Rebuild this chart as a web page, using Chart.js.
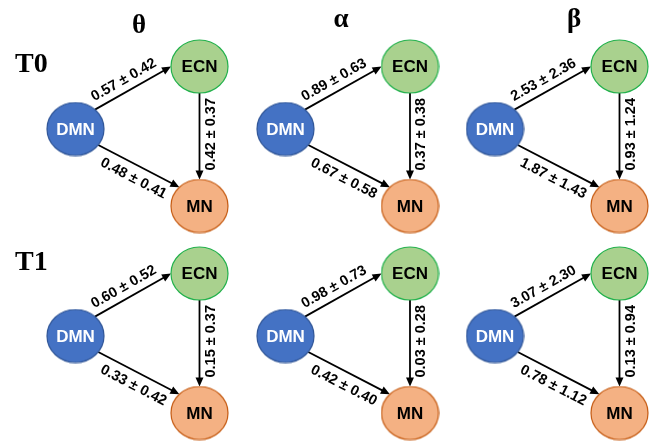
<!DOCTYPE html>
<html>
<head>
<meta charset="utf-8">
<script src="https://cdn.jsdelivr.net/npm/chart.js@4/dist/chart.umd.min.js"></script>
<style>
html,body{margin:0;padding:0;background:#fff;}
canvas{display:block;}
</style>
</head>
<body>
<canvas id="c" width="654" height="441"></canvas>
<script>
// ---- data ----
const bands = ['θ', 'α', 'β'];
const times = ['T0', 'T1'];
const nodeNames = ['DMN', 'ECN', 'MN'];
// order: T0 θ, T0 α, T0 β, T1 θ, T1 α, T1 β
const dmnEcnMean = [0.57, 0.89, 2.53, 0.60, 0.98, 3.07];
const dmnEcnSd   = [0.42, 0.63, 2.36, 0.52, 0.73, 2.30];
const ecnMnMean  = [0.42, 0.37, 0.93, 0.15, 0.03, 0.13];
const ecnMnSd    = [0.37, 0.38, 1.24, 0.37, 0.28, 0.94];
const dmnMnMean  = [0.48, 0.67, 1.87, 0.33, 0.42, 0.78];
const dmnMnSd    = [0.41, 0.58, 1.43, 0.42, 0.40, 1.12];

// ---- layout (positions in axis units) ----
const layout = {
  dmnX: [75.5, 285.5, 495],
  ecnX: [199.5, 410, 619.5],
  dmnY: 129, ecnY: 66.5, mnY: 206, rowDy: 207,
  titleX: [139, 341, 574], titleY: [33, 27, 27],
  timeX: 15, timeY: [72, 270],
  rx: 28.5, ry: 26.5
};
const styles = {
  DMN: {fill: '#4472C4', stroke: '#2F5597', text: '#ffffff'},
  ECN: {fill: '#A9D18E', stroke: '#22B14C', text: '#000000'},
  MN:  {fill: '#F4B183', stroke: '#C55A11', text: '#000000'}
};

function ellipseStyle(s) {
  const cv = document.createElement('canvas');
  const w = Math.ceil(layout.rx * 2 + 2), h = Math.ceil(layout.ry * 2 + 2);
  cv.width = w; cv.height = h;
  const g = cv.getContext('2d');
  g.beginPath();
  g.ellipse(w / 2, h / 2, layout.rx, layout.ry, 0, 0, Math.PI * 2);
  g.fillStyle = s.fill; g.fill();
  g.lineWidth = 1.2; g.strokeStyle = s.stroke; g.stroke();
  return cv;
}

function nodePoints(name) {
  const pts = [];
  for (let r = 0; r < times.length; r++) {
    for (let c = 0; c < bands.length; c++) {
      let x, y;
      if (name === 'DMN') { x = layout.dmnX[c]; y = layout.dmnY; }
      else if (name === 'ECN') { x = layout.ecnX[c]; y = layout.ecnY; }
      else { x = layout.ecnX[c]; y = layout.mnY; }
      pts.push({x: x, y: y + r * layout.rowDy});
    }
  }
  return pts;
}

const datasets = nodeNames.map(n => ({
  label: n,
  data: nodePoints(n),
  pointStyle: ellipseStyle(styles[n]),
  pointRadius: 28,
  showLine: false
}));

const fmt = (m, s) => m.toFixed(2) + ' \u00B1 ' + s.toFixed(2);
const deg = d => d * Math.PI / 180;

const edges = [
  {from: 0, to: 1, a0: -47, a1: 180, off: 11.5, along: -4, mean: dmnEcnMean, sd: dmnEcnSd},
  {from: 0, to: 2, a0: 37, a1: -135, off: -13.5, along: 1, mean: dmnMnMean, sd: dmnMnSd},
  {from: 1, to: 2, a0: 90, a1: -90, off: 11, along: -2, rot: -Math.PI / 2, mean: ecnMnMean, sd: ecnMnSd}
];

const netPlugin = {
  id: 'net',
  beforeDatasetsDraw(chart) {
    const ctx = chart.ctx, xs = chart.scales.x, ys = chart.scales.y;
    ctx.save();
    const n = datasets[0].data.length;
    for (let i = 0; i < n; i++) {
      edges.forEach(e => {
        const p0 = datasets[e.from].data[i], p1 = datasets[e.to].data[i];
        const c0 = {x: xs.getPixelForValue(p0.x), y: ys.getPixelForValue(p0.y)};
        const c1 = {x: xs.getPixelForValue(p1.x), y: ys.getPixelForValue(p1.y)};
        const s = {x: c0.x + layout.rx * Math.cos(deg(e.a0)), y: c0.y + layout.ry * Math.sin(deg(e.a0))};
        const t = {x: c1.x + layout.rx * Math.cos(deg(e.a1)), y: c1.y + layout.ry * Math.sin(deg(e.a1))};
        const dx = t.x - s.x, dy = t.y - s.y, L = Math.hypot(dx, dy);
        const ux = dx / L, uy = dy / L;
        const hl = 9, hw = 4;
        const bx = t.x - ux * hl, by = t.y - uy * hl;
        ctx.strokeStyle = '#000'; ctx.fillStyle = '#000'; ctx.lineWidth = 1.8;
        ctx.beginPath(); ctx.moveTo(s.x, s.y); ctx.lineTo(bx + ux, by + uy); ctx.stroke();
        ctx.beginPath();
        ctx.moveTo(t.x, t.y);
        ctx.lineTo(bx - uy * hw, by + ux * hw);
        ctx.lineTo(bx + uy * hw, by - ux * hw);
        ctx.closePath(); ctx.fill();
        // label: offset along normal (uy, -ux)
        const mx = (s.x + t.x) / 2 + ux * e.along + uy * e.off;
        const my = (s.y + t.y) / 2 + uy * e.along - ux * e.off;
        ctx.save();
        ctx.translate(mx, my);
        ctx.rotate(e.rot !== undefined ? e.rot : Math.atan2(dy, dx));
        ctx.font = 'bold 14.5px "Liberation Sans", Arial, sans-serif';
        ctx.textAlign = 'center'; ctx.textBaseline = 'middle';
        ctx.fillText(fmt(e.mean[i], e.sd[i]), 0, 0);
        ctx.restore();
      });
    }
    ctx.restore();
  },
  afterDatasetsDraw(chart) {
    const ctx = chart.ctx, xs = chart.scales.x, ys = chart.scales.y;
    ctx.save();
    ctx.textAlign = 'center'; ctx.textBaseline = 'middle';
    ctx.font = 'bold 17px "Liberation Sans", Arial, sans-serif';
    datasets.forEach(ds => {
      ctx.fillStyle = styles[ds.label].text;
      ds.data.forEach(p => {
        ctx.fillText(ds.label, xs.getPixelForValue(p.x), ys.getPixelForValue(p.y) + 1);
      });
    });
    ctx.fillStyle = '#000';
    ctx.textBaseline = 'alphabetic';
    ctx.font = 'bold 27px "Liberation Serif", "Times New Roman", serif';
    bands.forEach((b, i) => {
      ctx.fillText(b, xs.getPixelForValue(layout.titleX[i]), ys.getPixelForValue(layout.titleY[i]));
    });
    ctx.textAlign = 'left';
    ctx.font = 'bold 28px "Liberation Serif", "Times New Roman", serif';
    times.forEach((t, i) => {
      ctx.fillText(t, xs.getPixelForValue(layout.timeX), ys.getPixelForValue(layout.timeY[i]));
    });
    ctx.restore();
  }
};

new Chart(document.getElementById('c'), {
  type: 'scatter',
  data: {datasets: datasets},
  options: {
    responsive: false,
    animation: false,
    events: [],
    layout: {padding: 0, autoPadding: false},
    plugins: {legend: {display: false}, tooltip: {enabled: false}},
    scales: {
      x: {type: 'linear', min: 0, max: 654, display: false},
      y: {type: 'linear', min: 0, max: 441, reverse: true, display: false}
    }
  },
  plugins: [netPlugin]
});
</script>
</body>
</html>
